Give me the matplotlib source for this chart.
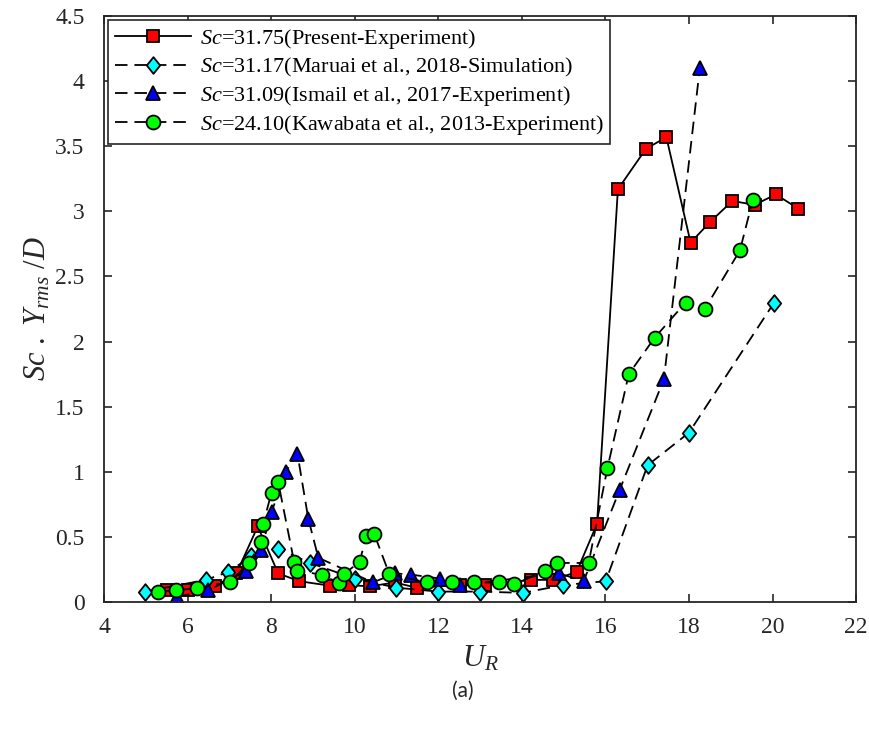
import matplotlib
matplotlib.use('Agg')
import matplotlib.pyplot as plt
from matplotlib.path import Path

plt.rcParams['font.family'] = ['Liberation Serif', 'DejaVu Serif']
plt.rcParams['mathtext.fontset'] = 'custom'
plt.rcParams['mathtext.rm'] = 'Liberation Serif'
plt.rcParams['mathtext.it'] = 'Liberation Serif:italic'
plt.rcParams['lines.scale_dashes'] = False

# Present experiment, Sc=31.75
ur_present = [5.50, 6.02, 6.66, 7.17, 7.68, 8.17, 8.67, 9.41, 9.87, 10.36, 10.96, 11.48,
              12.52, 13.11, 14.23, 14.75, 15.31, 15.80, 16.30, 16.97, 17.46, 18.04,
              18.51, 19.04, 19.57, 20.08, 20.62]
y_present = [0.09, 0.09, 0.12, 0.22, 0.58, 0.22, 0.16, 0.125, 0.13, 0.12, 0.15, 0.11,
             0.13, 0.13, 0.17, 0.17, 0.23, 0.60, 3.17, 3.48, 3.57, 2.76,
             2.92, 3.08, 3.05, 3.13, 3.02]

# Maruai et al. 2018, simulation, Sc=31.17
ur_maruai = [4.98, 6.44, 6.97, 7.53, 8.17, 8.93, 10.00, 11.00, 12.00, 13.00, 14.03,
             14.99, 16.01, 17.01, 18.00, 20.04]
y_maruai = [0.08, 0.17, 0.23, 0.35, 0.41, 0.30, 0.18, 0.11, 0.08, 0.08, 0.07,
            0.13, 0.16, 1.05, 1.30, 2.30]

# Ismail et al. 2017, experiment, Sc=31.09
ur_ismail = [5.75, 6.50, 7.41, 7.76, 8.01, 8.35, 8.63, 8.89, 9.13, 10.44, 10.96, 11.36,
             12.04, 12.52, 14.89, 15.48, 16.34, 17.40, 18.26]
y_ismail = [0.04, 0.09, 0.24, 0.40, 0.69, 1.00, 1.14, 0.64, 0.34, 0.15, 0.22, 0.21,
            0.18, 0.13, 0.22, 0.16, 0.86, 1.71, 4.10]

# Kawabata et al. 2013, experiment, Sc=24.10
ur_kawabata = [5.30, 5.72, 6.22, 7.01, 7.47, 7.76, 7.81, 8.01, 8.17, 8.55, 8.63, 9.21,
               9.63, 9.75, 10.12, 10.28, 10.47, 10.83, 11.73, 12.33, 12.86, 13.46,
               13.82, 14.55, 14.85, 15.60, 16.05, 16.56, 17.18, 17.92, 18.38, 19.22, 19.53]
y_kawabata = [0.08, 0.09, 0.105, 0.155, 0.30, 0.46, 0.60, 0.84, 0.92, 0.31, 0.24, 0.21,
              0.145, 0.215, 0.31, 0.51, 0.52, 0.215, 0.15, 0.15, 0.15, 0.15,
              0.135, 0.24, 0.30, 0.30, 1.03, 1.75, 2.03, 2.30, 2.25, 2.70, 3.09]

# a diamond a bit taller than wide, like the matlab one
diamond = Path([(0, 1), (0.8, 0), (0, -1), (-0.8, 0), (0, 1)],
               [Path.MOVETO, Path.LINETO, Path.LINETO, Path.LINETO, Path.CLOSEPOLY])

fig = plt.figure(figsize=(8.7, 7.29), dpi=100)
ax = fig.add_axes([0.1195, 0.1742, 0.8645, 0.8038])

ax.plot(ur_present, y_present, '-', color='black', lw=1.3, marker='s', ms=8.5,
        mfc='red', mec='black', mew=1.3,
        label=r'$Sc$=31.75(Present-Experiment)')
ax.plot(ur_maruai, y_maruai, color='black', lw=1.3, dashes=(9, 5), marker=diamond, ms=12,
        mfc='cyan', mec='black', mew=1.3,
        label=r'$Sc$=31.17(Maruai et al., 2018-Simulation)')
ax.plot(ur_ismail, y_ismail, color='black', lw=1.3, dashes=(9, 5), marker='^', ms=10.5,
        mfc='blue', mec='black', mew=1.3,
        label=r'$Sc$=31.09(Ismail et al., 2017-Experiment)')
ax.plot(ur_kawabata, y_kawabata, color='black', lw=1.3, dashes=(9, 5), marker='o', ms=10,
        mfc='#00ff00', mec='black', mew=1.3,
        label=r'$Sc$=24.10(Kawabata et al., 2013-Experiment)')

ax.set_xlim(4, 22)
ax.set_ylim(0, 4.5)
ax.set_xticks(range(4, 23, 2))
ax.set_yticks([0, 0.5, 1, 1.5, 2, 2.5, 3, 3.5, 4, 4.5])
ax.set_yticklabels(['0', '0.5', '1', '1.5', '2', '2.5', '3', '3.5', '4', '4.5'])
ax.tick_params(direction='in', length=6, width=1.2, labelsize=17, top=True, right=True,
               colors='#262626', labelcolor='#262626')
ax.tick_params(axis='x', pad=11)
ax.tick_params(axis='y', pad=14)
for sp in ax.spines.values():
    sp.set_linewidth(1.3)
    sp.set_color('#262626')

ax.set_xlabel(r'$U_R$', fontsize=22, color='#262626', labelpad=4)
ax.set_ylabel(r'$Sc\ .\ Y_{rms}\ /D$', fontsize=22, color='#262626', labelpad=2)

leg = ax.legend(loc='upper left', fontsize=16, frameon=True, fancybox=False,
                edgecolor='#262626', framealpha=1, handlelength=3.4, labelspacing=0.22,
                borderaxespad=0.2, borderpad=0.3, handletextpad=0.4)
leg.get_frame().set_linewidth(1.2)

fig.text(0.532, 0.052, '(a)', fontsize=15, family=['Lato', 'DejaVu Sans'],
         ha='center', va='center', color='#262626')

fig.savefig('out.png', dpi=100)
